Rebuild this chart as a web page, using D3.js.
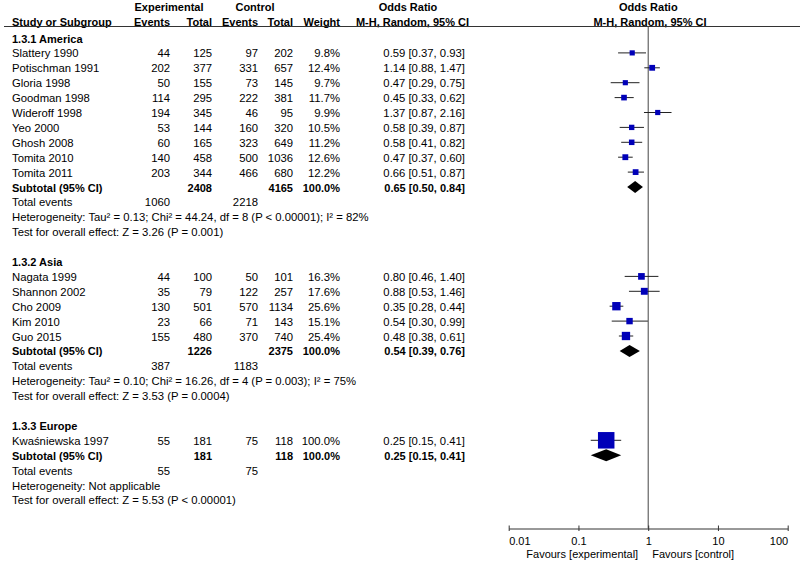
<!DOCTYPE html>
<html><head><meta charset="utf-8">
<script src="https://cdn.jsdelivr.net/npm/d3@7"></script>
<style>
body{margin:0;background:#fff;}
svg text{font-family:"Liberation Sans",Arial,sans-serif;font-size:11.3px;fill:#000;}
svg text.b{font-size:11px;font-weight:bold;}
</style></head>
<body><svg id="c" width="800" height="563"></svg>
<script>
const groupNames = ["1.3.1 America", "1.3.2 Asia", "1.3.3 Europe"];
const studyNames = ["Slattery 1990","Potischman 1991","Gloria 1998","Goodman 1998","Wideroff 1998","Yeo 2000","Ghosh 2008","Tomita 2010","Tomita 2011",
  "Nagata 1999","Shannon 2002","Cho 2009","Kim 2010","Guo 2015",
  "Kwaśniewska 1997"];
const studyGroup = [0,0,0,0,0,0,0,0,0, 1,1,1,1,1, 2];
const expEvents  = [44,202,50,114,194,53,60,140,203, 44,35,130,23,155, 55];
const expTotal   = [125,377,155,295,345,144,165,458,344, 100,79,501,66,480, 181];
const ctrlEvents = [97,331,73,222,46,160,323,500,466, 50,122,570,71,370, 75];
const ctrlTotal  = [202,657,145,381,95,320,649,1036,680, 101,257,1134,143,740, 118];
const weights    = [9.8,12.4,9.7,11.7,9.9,10.5,11.2,12.6,12.2, 16.3,17.6,25.6,15.1,25.4, 100.0];
const orVal      = [0.59,1.14,0.47,0.45,1.37,0.58,0.58,0.47,0.66, 0.80,0.88,0.35,0.54,0.48, 0.25];
const orLo       = [0.37,0.88,0.29,0.33,0.87,0.39,0.41,0.37,0.51, 0.46,0.53,0.28,0.30,0.38, 0.15];
const orHi       = [0.93,1.47,0.75,0.62,2.16,0.87,0.82,0.60,0.87, 1.40,1.46,0.44,0.99,0.61, 0.41];

const subExpTotal   = [2408,1226,181];
const subCtrlTotal  = [4165,2375,118];
const subExpEvents  = [1060,387,55];
const subCtrlEvents = [2218,1183,75];
const subOR = [0.65,0.54,0.25];
const subLo = [0.50,0.39,0.15];
const subHi = [0.84,0.76,0.41];
const heterogeneity = [
  "Heterogeneity: Tau² = 0.13; Chi² = 44.24, df = 8 (P < 0.00001); I² = 82%",
  "Heterogeneity: Tau² = 0.10; Chi² = 16.26, df = 4 (P = 0.003); I² = 75%",
  "Heterogeneity: Not applicable"];
const overallTest = [
  "Test for overall effect: Z = 3.26 (P = 0.001)",
  "Test for overall effect: Z = 3.53 (P = 0.0004)",
  "Test for overall effect: Z = 5.53 (P < 0.00001)"];
const tickValues = [0.01, 0.1, 1, 10, 100];
const tickLabels = ["0.01", "0.1", "1", "10", "100"];

const svg = d3.select("#c");
const fmt2 = d => d.toFixed(2);
const orText = (o,l,h) => `${fmt2(o)} [${fmt2(l)}, ${fmt2(h)}]`;

// build rows
const rows = [];
groupNames.forEach((g, gi) => {
  rows.push({type:"group", label:g});
  studyNames.forEach((s, si) => { if (studyGroup[si] === gi) rows.push({type:"study", i:si}); });
  rows.push({type:"sub", g:gi});
  rows.push({type:"events", g:gi});
  rows.push({type:"text", label:heterogeneity[gi]});
  rows.push({type:"text", label:overallTest[gi]});
  rows.push({type:"blank"});
});

const y = d3.scaleLinear().domain([0, 31]).range([38.5, 38.5 + 31*14.9]);
const x = d3.scaleLog().domain([0.01, 100]).range([508.7, 787.7]);
const col = {name:12, ee:170, et:212, ce:258, ct:293, w:340, or:465};
const side = d3.scaleSqrt().domain([0, 100]).range([0, 16.5]);

function txt(xp, yp, s, anchor, bold, size) {
  const t = svg.append("text").attr("x", xp).attr("y", yp + 4).attr("text-anchor", anchor || "start")
    .attr("class", bold ? "b" : null).text(s);
  if (size) t.style("font-size", size + "px");
  return t;
}

// headers
txt(169, 6.5, "Experimental", "middle", true);
txt(255, 6.5, "Control", "middle", true);
txt(408, 6.5, "Odds Ratio", "middle", true);
txt(648.3, 6.5, "Odds Ratio", "middle", true);
txt(col.name, 21.5, "Study or Subgroup", "start", true);
txt(col.ee, 21.5, "Events", "end", true);
txt(col.et, 21.5, "Total", "end", true);
txt(col.ce, 21.5, "Events", "end", true);
txt(col.ct, 21.5, "Total", "end", true);
txt(col.w, 21.5, "Weight", "end", true);
txt(col.or + 4, 21.5, "M-H, Random, 95% CI", "end", true);
txt(650, 21.5, "M-H, Random, 95% CI", "middle", true);
svg.append("line").attr("x1", 4).attr("x2", 800).attr("y1", 26.5).attr("y2", 26.5)
  .attr("stroke", "#333").attr("stroke-width", 1);

// null line
svg.append("line").attr("x1", x(1)).attr("x2", x(1)).attr("y1", 26.5).attr("y2", 528.5)
  .attr("stroke", "#444").attr("stroke-width", 1);

rows.forEach((r, ri) => {
  const yy = y(ri);
  const my = yy - 0.5;
  if (r.type === "group") txt(col.name, yy, r.label, "start", true);
  else if (r.type === "study") {
    const i = r.i;
    txt(col.name, yy, studyNames[i]);
    txt(col.ee, yy, expEvents[i], "end");
    txt(col.et, yy, expTotal[i], "end");
    txt(col.ce, yy, ctrlEvents[i], "end");
    txt(col.ct, yy, ctrlTotal[i], "end");
    txt(col.w, yy, weights[i].toFixed(1) + "%", "end");
    txt(col.or, yy, orText(orVal[i], orLo[i], orHi[i]), "end");
    svg.append("line").attr("x1", x(orLo[i])).attr("x2", x(orHi[i])).attr("y1", my).attr("y2", my)
      .attr("stroke", "#222").attr("stroke-width", 1);
    const s = side(weights[i]);
    svg.append("rect").attr("x", x(orVal[i]) - s/2).attr("y", my - s/2).attr("width", s).attr("height", s)
      .attr("fill", "#0000b8");
  } else if (r.type === "sub") {
    const g = r.g;
    txt(col.name, yy, "Subtotal (95% CI)", "start", true);
    txt(col.et, yy, subExpTotal[g], "end", true);
    txt(col.ct, yy, subCtrlTotal[g], "end", true);
    txt(col.w, yy, "100.0%", "end", true);
    txt(col.or, yy, orText(subOR[g], subLo[g], subHi[g]), "end", true);
    const h = 6;
    svg.append("path").attr("d",
      `M${x(subLo[g])},${my} L${x(subOR[g])},${my - h} L${x(subHi[g])},${my} L${x(subOR[g])},${my + h} Z`)
      .attr("fill", "#000");
  } else if (r.type === "events") {
    txt(col.name, yy, "Total events");
    txt(col.ee, yy, subExpEvents[r.g], "end");
    txt(col.ce, yy, subCtrlEvents[r.g], "end");
  } else if (r.type === "text") txt(col.name, yy, r.label);
});

// axis
const ax = svg.append("g").attr("transform", "translate(0,528.5)")
  .call(d3.axisBottom(x).tickValues(tickValues).tickFormat((d, i) => tickLabels[i]).tickSizeOuter(0).tickSizeInner(0));
ax.select(".domain").attr("stroke", "#333");
ax.selectAll(".tick line").attr("y1", -3).attr("y2", 2.5).attr("stroke", "#333");
ax.selectAll(".tick text").attr("y", 9).attr("dy", "0.71em")
  .style("font-family", '"Liberation Sans",Arial,sans-serif').style("font-size", "11px").attr("fill", "#000")
  .attr("text-anchor", (d, i) => i === 0 ? "start" : (i === tickValues.length - 1 ? "end" : "middle"));
txt(x(1) - 10, 553.5, "Favours [experimental]", "end", false, 11);
txt(x(1) + 4, 553.5, "Favours [control]", "start", false, 11);
</script></body></html>
